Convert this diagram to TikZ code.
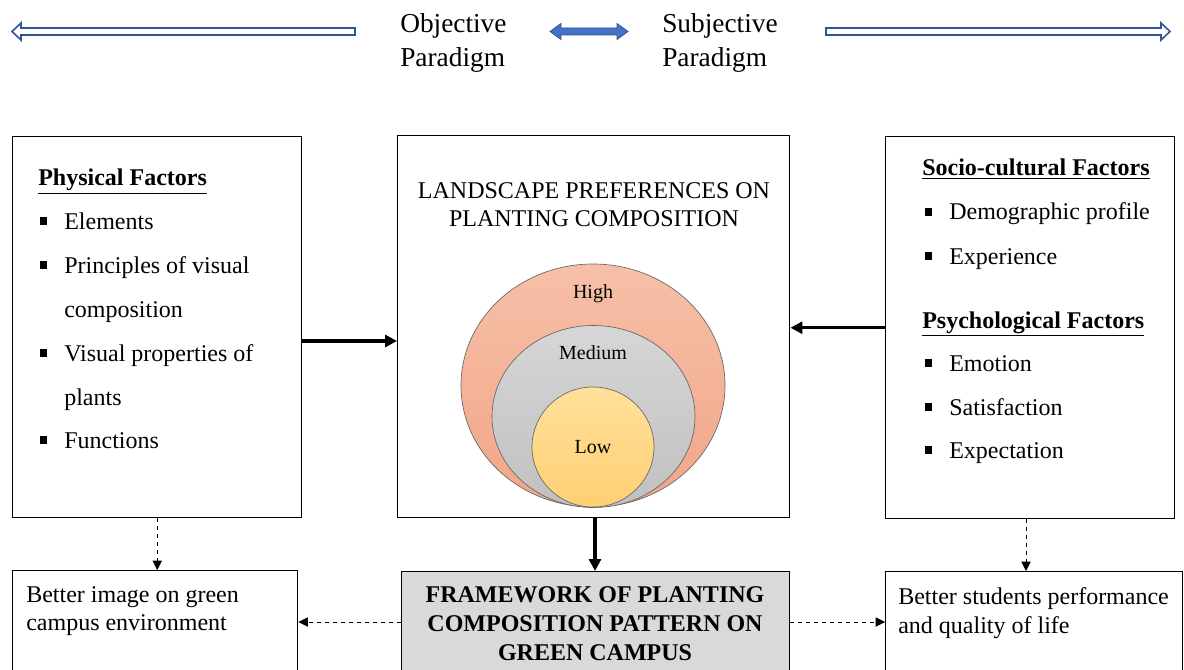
\documentclass[tikz,border=0pt]{standalone}
\usepackage{fontspec}
\setmainfont{Liberation Serif}
\usetikzlibrary{arrows.meta,shapes.geometric,calc}
\definecolor{arrowblue}{RGB}{47,85,151}
\definecolor{fillblue}{RGB}{68,114,196}
\definecolor{framegray}{RGB}{217,217,217}
\definecolor{hightop}{RGB}{246,192,168}
\definecolor{highbot}{RGB}{242,165,135}
\definecolor{medtop}{RGB}{214,214,214}
\definecolor{medbot}{RGB}{192,192,192}
\definecolor{lowtop}{RGB}{255,224,155}
\definecolor{lowbot}{RGB}{255,208,115}
\newcommand\bul{\makebox[18pt][l]{\rule[0.18em]{0.3em}{0.3em}}}
\tikzset{
  box/.style={draw, line width=1.1pt, anchor=north west, inner sep=0pt},
  txt/.style={anchor=base west, inner sep=0pt, font=\fontsize{18}{22}\selectfont},
  lbl/.style={inner sep=0pt, font=\fontsize{15}{18}\selectfont},
  thickarrow/.style={line width=2.3pt, -{Triangle[length=9pt,width=9pt]}},
  dasharrow/.style={dashed, line width=0.5pt, -{Triangle[length=7pt,width=7pt]}},
  ring/.style={ellipse, draw=gray!80!black, line width=0.5pt, inner sep=0pt},
  hollowarrow/.style={draw=arrowblue, line width=1.2pt, fill=white, line join=miter}
}
\begin{document}
\begin{tikzpicture}[x=0.75pt,y=-0.75pt]
\useasboundingbox (0,0) rectangle (1184,670);
\clip (0,0) rectangle (1184,670);
% top paradigm arrows
\draw[hollowarrow] (12,31.5) -- (21,23) -- (21,28) -- (355,28) -- (355,35) -- (21,35) -- (21,40) -- cycle;
\draw[hollowarrow] (1170,31.5) -- (1161,23) -- (1161,28) -- (826,28) -- (826,35) -- (1161,35) -- (1161,40) -- cycle;
\draw[draw=arrowblue, fill=fillblue, line width=0.6pt] (550,31.5) -- (561,23.5) -- (561,28) -- (617,28) -- (617,23.5) -- (628,31.5) -- (617,39.5) -- (617,35) -- (561,35) -- (561,39.5) -- cycle;
\node[anchor=west, align=left, inner sep=0pt, font=\fontsize{20.5}{25.5}\selectfont] (obj) at (400,43) {Objective\\Paradigm};
\node[anchor=west, align=left, inner sep=0pt, font=\fontsize{20.5}{25.5}\selectfont] (subj) at (662,43) {Subjective\\Paradigm};
% main boxes
\node[box, minimum width=216.75pt, minimum height=285.75pt] (lb) at (12,136) {};
\node[box, minimum width=294pt, minimum height=286.5pt] (cb) at (397,135) {};
\node[box, minimum width=216.75pt, minimum height=286.5pt] (rb) at (885,136) {};
% left box text
\node[txt] (l0) at (38,186) {\textbf{\underline{Physical Factors}}};
\node[txt] (l1) at (40,229) {\bul Elements};
\node[txt] (l2) at (40,273) {\bul Principles of visual};
\node[txt] (l3) at (64,317) {composition};
\node[txt] (l4) at (40,361) {\bul Visual properties of};
\node[txt] (l5) at (64,405) {plants};
\node[txt] (l6) at (40,448) {\bul Functions};
% right box text
\node[txt] (r0) at (922,176) {\textbf{\underline{Socio-cultural Factors}}};
\node[txt] (r1) at (925,220) {\bul Demographic profile};
\node[txt] (r2) at (925,264) {\bul Experience};
\node[txt] (r3) at (922,328) {\textbf{\underline{Psychological Factors}}};
\node[txt] (r4) at (925,371) {\bul Emotion};
\node[txt] (r5) at (925,415) {\bul Satisfaction};
\node[txt] (r6) at (925,458) {\bul Expectation};
% center
\node[align=center, inner sep=0pt, font=\fontsize{18}{21}\selectfont] (ctitle) at (594,205) {LANDSCAPE PREFERENCES ON\\PLANTING COMPOSITION};
\node[ring, minimum width=198pt, minimum height=182.25pt, top color=hightop, bottom color=highbot] (high) at (593,385.5) {};
\node[ring, minimum width=152.25pt, minimum height=136.5pt, top color=medtop, bottom color=medbot] (med) at (593.5,416.5) {};
\node[ring, minimum width=91.5pt, minimum height=90pt, top color=lowtop, bottom color=lowbot] (low) at (593,447) {};
\node[lbl] (thigh) at (593,294) {High};
\node[lbl] (tmed) at (593,353) {Medium};
\node[lbl] (tlow) at (593,447) {Low};
% bottom boxes
\node[box, minimum width=213.75pt, minimum height=97.5pt] (bl) at (12,570) {};
\node[box, fill=framegray, minimum width=291pt, minimum height=97.5pt] (bc) at (401,571) {};
\node[box, minimum width=222.75pt, minimum height=97.5pt] (br) at (885,571) {};
\node[anchor=west, align=left, inner sep=0pt, font=\fontsize{18}{21}\selectfont] (bltxt) at (26,611) {Better image on green\\campus environment};
\node[align=center, inner sep=0pt, font=\bfseries\fontsize{18}{21.75}\selectfont] (bctxt) at (595,624) {FRAMEWORK OF PLANTING\\COMPOSITION PATTERN ON\\GREEN CAMPUS};
\node[anchor=west, align=left, inner sep=0pt, font=\fontsize{18}{21.75}\selectfont] (brtxt) at (898,613) {Better students performance\\and quality of life};
% connectors
\coordinate (la) at (0,341);
\coordinate (dm) at (0,622);
\coordinate (rx) at (1026,0);
\draw[thickarrow] (lb.east |- la) -- (cb.west |- la);
\draw[thickarrow] (rb.west) -- (cb.east |- rb.west);
\draw[thickarrow] (cb.south -| bctxt) -- (bc.north -| bctxt);
\draw[dasharrow] (lb.south) -- (lb.south |- bl.north);
\draw[dasharrow] (rx |- rb.south) -- (rx |- br.north);
\draw[dasharrow] (bc.west |- dm) -- (bl.east |- dm);
\draw[dasharrow] (bc.east |- dm) -- (br.west |- dm);
\end{tikzpicture}
\end{document}
